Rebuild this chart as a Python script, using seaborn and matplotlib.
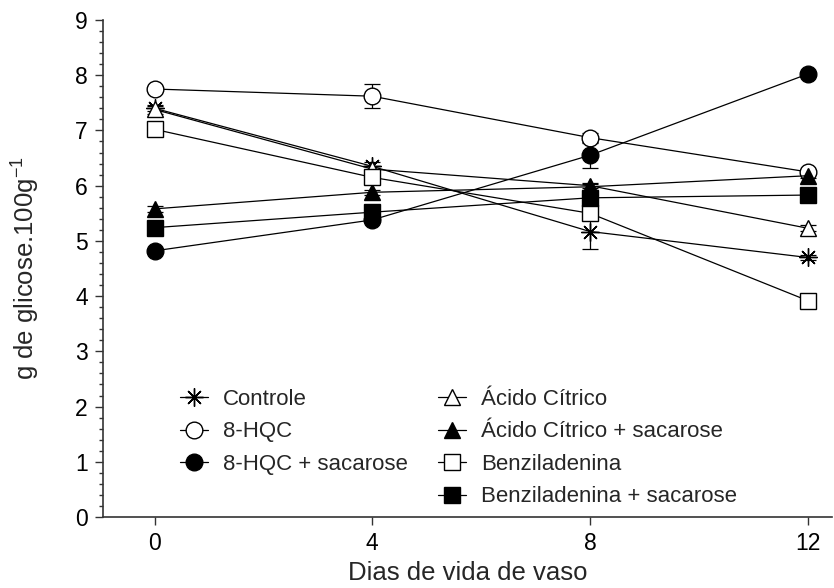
import matplotlib
matplotlib.use("Agg")
import matplotlib.pyplot as plt
import seaborn as sns
import pandas as pd
import numpy as np
from matplotlib.ticker import MultipleLocator
from matplotlib.lines import Line2D

# ---- data ----
dias = [0, 4, 8, 12]
series_names = ["Controle", "8-HQC", "8-HQC + sacarose", "Ácido Cítrico",
                "Ácido Cítrico + sacarose", "Benziladenina", "Benziladenina + sacarose"]
controle = [7.40, 6.35, 5.17, 4.70]
controle_err = [0.05, 0.08, 0.32, 0.05]
hqc = [7.75, 7.62, 6.87, 6.25]
hqc_err = [0.05, 0.22, 0.08, 0.05]
hqc_sac = [4.82, 5.38, 6.55, 8.02]
hqc_sac_err = [0.05, 0.05, 0.23, 0.05]
acido = [7.38, 6.30, 6.00, 5.23]
acido_err = [0.08, 0.05, 0.05, 0.05]
acido_sac = [5.58, 5.88, 5.98, 6.18]
acido_sac_err = [0.05, 0.05, 0.05, 0.05]
benzil = [7.02, 6.15, 5.50, 3.92]
benzil_err = [0.12, 0.05, 0.05, 0.05]
benzil_sac = [5.24, 5.52, 5.78, 5.83]
benzil_sac_err = [0.05, 0.05, 0.05, 0.05]

values = [controle, hqc, hqc_sac, acido, acido_sac, benzil, benzil_sac]
errors = [controle_err, hqc_err, hqc_sac_err, acido_err, acido_sac_err, benzil_err, benzil_sac_err]

rows = []
for name, v, e in zip(series_names, values, errors):
    for d, vv, ee in zip(dias, v, e):
        rows.append({"serie": name, "dia": d, "valor": vv, "erro": ee})
df = pd.DataFrame(rows)

# ---- styles ----
ast = (8, 2, 0)
styles = {
    "Controle": (ast, "black", 13),
    "8-HQC": ("o", "white", 12),
    "8-HQC + sacarose": ("o", "black", 12),
    "Ácido Cítrico": ("^", "white", 12),
    "Ácido Cítrico + sacarose": ("^", "black", 12),
    "Benziladenina": ("s", "white", 12),
    "Benziladenina + sacarose": ("s", "black", 12),
}

sns.set_theme(style="ticks")
plt.rcParams["font.family"] = ["Liberation Sans", "DejaVu Sans"]
plt.rcParams["mathtext.fontset"] = "custom"
plt.rcParams["mathtext.rm"] = "Liberation Sans"
plt.rcParams["mathtext.it"] = "Liberation Sans:italic"

fig = plt.figure(figsize=(8.34, 5.88), dpi=100)
# axes: left spine x=103 px, y=0 at 517 px, y=9 at 20 px
ax = fig.add_axes([103 / 834, (588 - 517) / 588, 729 / 834, 497 / 588])

handles = {}
for i, name in enumerate(series_names):
    sub = df[df["serie"] == name]
    m, fc, ms = styles[name]
    ax.errorbar(sub["dia"], sub["valor"], yerr=sub["erro"], fmt="none",
                ecolor="black", elinewidth=0.9, capsize=6, capthick=0.9, zorder=2)
    sns.lineplot(data=sub, x="dia", y="valor", ax=ax, color="black", linewidth=0.9,
                 marker=m, markersize=ms, markerfacecolor=fc, markeredgecolor="black",
                 markeredgewidth=1.0, legend=False, zorder=3 + i * 0.1)
    handles[name] = Line2D([], [], color="black", linewidth=0.9, marker=m,
                           markersize=ms, markerfacecolor=fc,
                           markeredgecolor="black", markeredgewidth=1.0)

ax.set_xlim(-0.95, 12.45)
ax.set_ylim(0, 9)
ax.set_xticks(dias)
ax.yaxis.set_major_locator(MultipleLocator(1))
ax.yaxis.set_minor_locator(MultipleLocator(0.2))
ax.tick_params(axis="both", which="major", direction="out", length=6, width=1,
               labelsize=16.5, color="#333333", labelcolor="black")
ax.tick_params(axis="y", which="minor", direction="out", length=3, width=1, color="#333333")
ax.tick_params(axis="x", which="major", pad=5)
ax.tick_params(axis="y", which="major", pad=5)
sns.despine(ax=ax)
for s in ["left", "bottom"]:
    ax.spines[s].set_linewidth(1.2)
    ax.spines[s].set_color("#333333")

ax.set_xlabel("Dias de vida de vaso", fontsize=18.5, labelpad=4)
ax.set_ylabel(r"g de glicose.100g$^{\mathregular{-1}}$", fontsize=18.5, labelpad=24)

leg_kw = dict(frameon=False, fontsize=16, handlelength=1.25, handletextpad=0.67,
              labelspacing=0.52, borderaxespad=0, borderpad=0, loc="upper left")
col1 = series_names[:3]
col2 = series_names[3:]
leg1 = ax.legend([handles[n] for n in col1], col1, bbox_to_anchor=(0.106, 0.258), **leg_kw)
ax.add_artist(leg1)
ax.legend([handles[n] for n in col2], col2, bbox_to_anchor=(0.46, 0.258), **leg_kw)

fig.savefig("out.png", dpi=100)
